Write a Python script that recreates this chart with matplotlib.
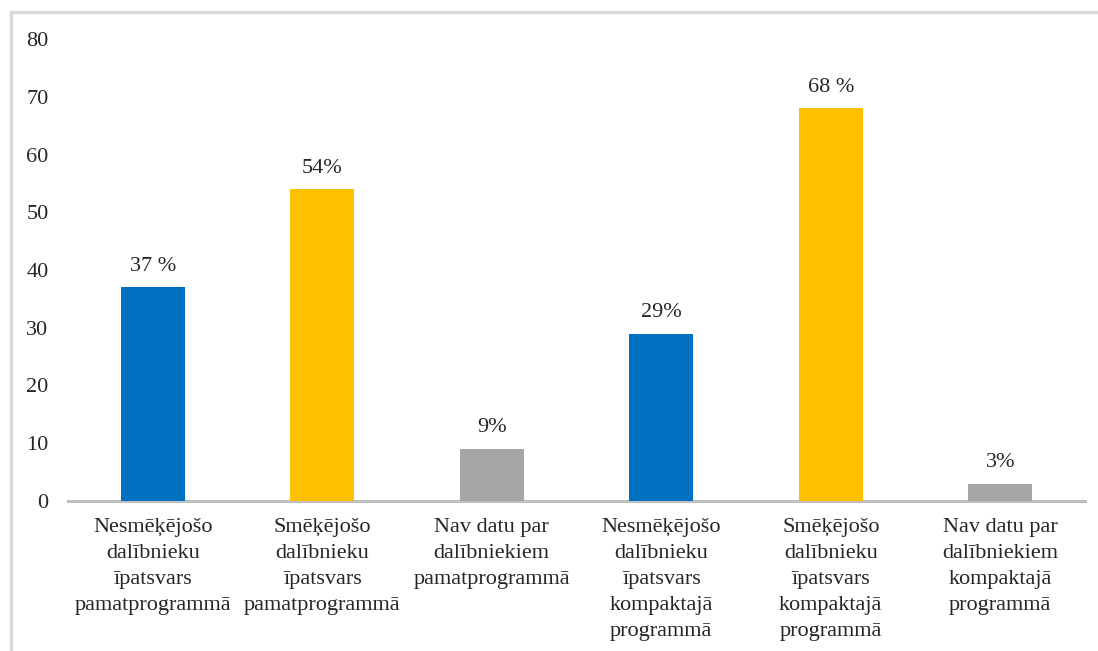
import matplotlib
matplotlib.use("Agg")
import matplotlib.pyplot as plt
from matplotlib.patches import Rectangle

categories = [
    "Nesmēķējošo\ndalībnieku\nīpatsvars\npamatprogrammā",
    "Smēķējošo\ndalībnieku\nīpatsvars\npamatprogrammā",
    "Nav datu par\ndalībniekiem\npamatprogrammā",
    "Nesmēķējošo\ndalībnieku\nīpatsvars\nkompaktajā\nprogrammā",
    "Smēķējošo\ndalībnieku\nīpatsvars\nkompaktajā\nprogrammā",
    "Nav datu par\ndalībniekiem\nkompaktajā\nprogrammā",
]
values = [37, 54, 9, 29, 68, 3]
value_labels = ["37 %", "54%", "9%", "29%", "68 %", "3%"]
yticks = [0, 10, 20, 30, 40, 50, 60, 70, 80]

BLUE = "#0070C0"
YELLOW = "#FFC000"
GRAY = "#A5A5A5"
TEXT = "#262626"
colors = [BLUE, YELLOW, GRAY, BLUE, YELLOW, GRAY]

plt.rcParams["font.family"] = ["Liberation Serif", "DejaVu Serif"]

W, H = 1098, 651
fig = plt.figure(figsize=(W / 100, H / 100), dpi=100)

# rámis ap diagrammu (labā un apakšējā mala ārpus attēla)
fig.patches.append(Rectangle((11 / W, -0.1), 1.2, (H - 12) / H + 0.1,
                             transform=fig.transFigure, fill=False,
                             edgecolor="#D9D9D9", lw=2.5))

x0, x1 = 68, 1085
y0, y1 = 501, 39
ax = fig.add_axes([x0 / W, 1 - y0 / H, (x1 - x0) / W, (y0 - y1) / H])

xs = range(len(values))
ax.bar(xs, values, width=0.38, color=colors, zorder=3)

for x, v, lbl in zip(xs, values, value_labels):
    ax.text(x, v + 2.0, lbl, ha="center", va="bottom", fontsize=16, color=TEXT)

ax.set_xlim(-0.5, len(values) - 0.5)
ax.set_ylim(0, 80)
ax.set_yticks(yticks)
ax.set_yticklabels([str(t) for t in yticks], fontsize=16, color=TEXT)
ax.set_xticks(list(xs))
ax.set_xticklabels(categories, fontsize=16, color=TEXT, va="top",
                   linespacing=1.5)
ax.tick_params(axis="y", length=0, pad=14)
ax.tick_params(axis="x", length=0, pad=12)
for spine in ("top", "right", "left"):
    ax.spines[spine].set_visible(False)
ax.spines["bottom"].set_color("#BFBFBF")
ax.spines["bottom"].set_linewidth(2.2)

fig.savefig("out.png", dpi=100, facecolor="white")
